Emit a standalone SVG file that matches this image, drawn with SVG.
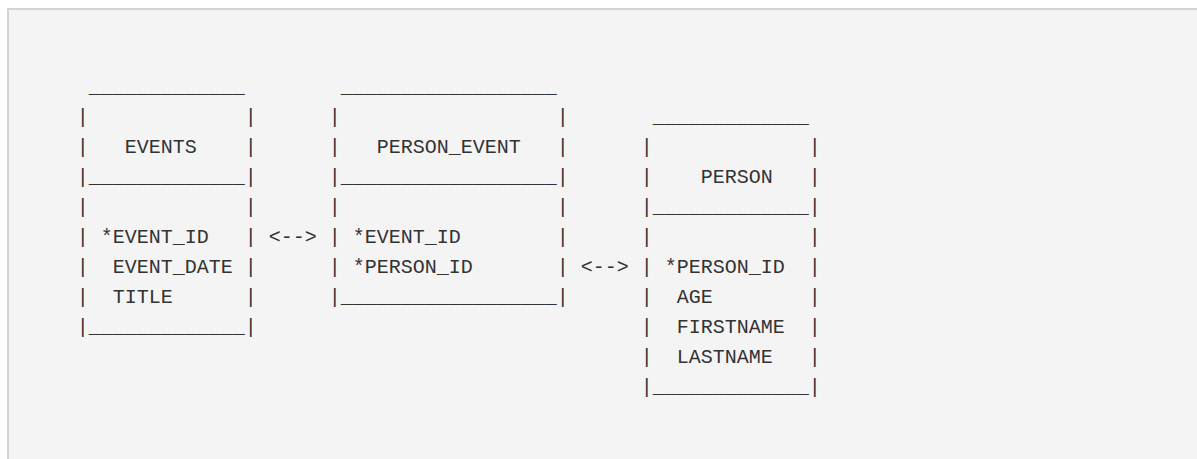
<svg xmlns="http://www.w3.org/2000/svg" width="1197" height="459" viewBox="0 0 1197 459" xml:space="preserve">
<style>
.t{font-family:"Liberation Mono","Courier New",monospace;font-size:20px;fill:#333}
</style>
<rect x="0" y="0" width="1197" height="459" fill="#ffffff"/>
<rect x="8" y="9" width="1200" height="470" fill="#f4f4f4" stroke="#d3d3d3" stroke-width="2"/>
<g id="events" class="t">
<text xml:space="preserve" x="76.7" y="93"> _____________</text>
<text xml:space="preserve" x="76.7" y="123">|             |</text>
<text xml:space="preserve" x="76.7" y="153">|   EVENTS    |</text>
<text xml:space="preserve" x="76.7" y="183">|_____________|</text>
<text xml:space="preserve" x="76.7" y="213">|             |</text>
<text xml:space="preserve" x="76.7" y="243">| *EVENT_ID   |</text>
<text xml:space="preserve" x="76.7" y="273">|  EVENT_DATE |</text>
<text xml:space="preserve" x="76.7" y="303">|  TITLE      |</text>
<text xml:space="preserve" x="76.7" y="333">|_____________|</text>
</g>
<g id="person_event" class="t">
<text xml:space="preserve" x="328.7" y="93"> __________________</text>
<text xml:space="preserve" x="328.7" y="123">|                  |</text>
<text xml:space="preserve" x="328.7" y="153">|   PERSON_EVENT   |</text>
<text xml:space="preserve" x="328.7" y="183">|__________________|</text>
<text xml:space="preserve" x="328.7" y="213">|                  |</text>
<text xml:space="preserve" x="328.7" y="243">| *EVENT_ID        |</text>
<text xml:space="preserve" x="328.7" y="273">| *PERSON_ID       |</text>
<text xml:space="preserve" x="328.7" y="303">|__________________|</text>
</g>
<g id="person" class="t">
<text xml:space="preserve" x="640.7" y="123"> _____________</text>
<text xml:space="preserve" x="640.7" y="153">|             |</text>
<text xml:space="preserve" x="640.7" y="183">|    PERSON   |</text>
<text xml:space="preserve" x="640.7" y="213">|_____________|</text>
<text xml:space="preserve" x="640.7" y="243">|             |</text>
<text xml:space="preserve" x="640.7" y="273">| *PERSON_ID  |</text>
<text xml:space="preserve" x="640.7" y="303">|  AGE        |</text>
<text xml:space="preserve" x="640.7" y="333">|  FIRSTNAME  |</text>
<text xml:space="preserve" x="640.7" y="363">|  LASTNAME   |</text>
<text xml:space="preserve" x="640.7" y="393">|_____________|</text>
</g>
<g id="connectors" class="t">
<text x="268.7" y="243">&lt;--&gt;</text>
<text x="580.7" y="273">&lt;--&gt;</text>
</g>
</svg>
